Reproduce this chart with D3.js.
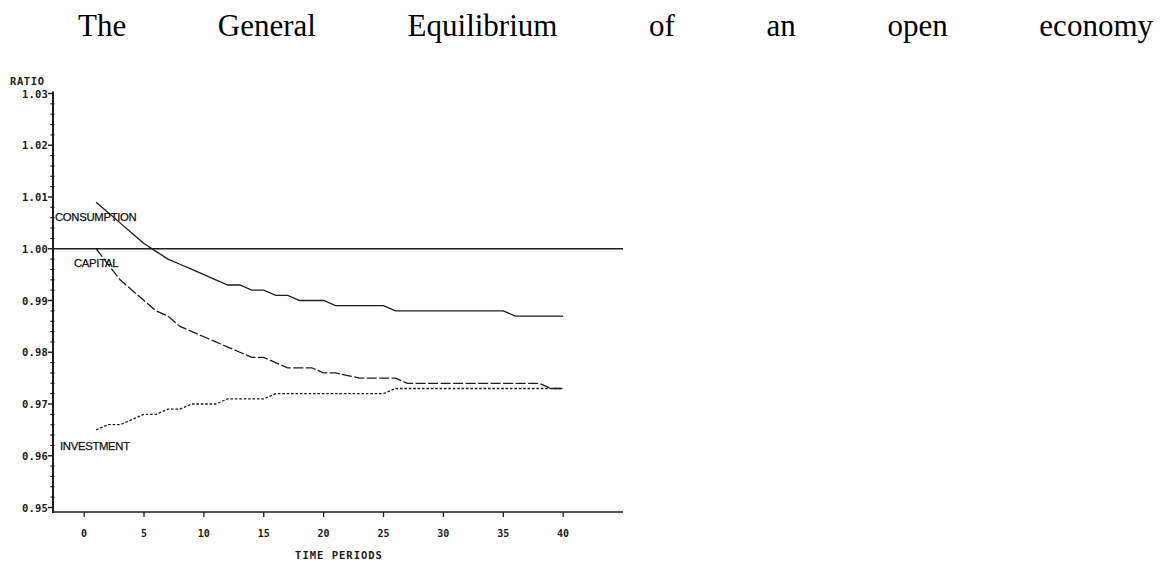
<!DOCTYPE html>
<html>
<head>
<meta charset="utf-8">
<script src="https://cdn.jsdelivr.net/npm/d3@7"></script>
<style>
  body { margin: 0; background: #fff; }
  svg { display: block; }
  .tick-label { font-family: "DejaVu Sans Mono", monospace; font-weight: bold; fill: #1a1a1a; }
  .series-label { font-family: "Liberation Sans", Arial, sans-serif; font-size: 11.3px; fill: #111; stroke: #111; stroke-width: 0.25px; }
</style>
</head>
<body>
<div id="chart"></div>
<script>
var titleWords = ["The", "General", "Equilibrium", "of", "an", "open", "economy"]

var periods = [1,2,3,4,5,6,7,8,9,10,11,12,13,14,15,16,17,18,19,20,
               21,22,23,24,25,26,27,28,29,30,31,32,33,34,35,36,37,38,39,40]

var consumption = [1.009,1.007,1.005,1.003,1.001,0.9995,0.998,0.997,0.996,0.995,
                   0.994,0.993,0.993,0.992,0.992,0.991,0.991,0.990,0.990,0.990,
                   0.989,0.989,0.989,0.989,0.989,0.988,0.988,0.988,0.988,0.988,
                   0.988,0.988,0.988,0.988,0.988,0.987,0.987,0.987,0.987,0.987]

var capital = [1.000,0.997,0.994,0.992,0.990,0.988,0.987,0.985,0.984,0.983,
               0.982,0.981,0.980,0.979,0.979,0.978,0.977,0.977,0.977,0.976,
               0.976,0.9755,0.975,0.975,0.975,0.975,0.974,0.974,0.974,0.974,
               0.974,0.974,0.974,0.974,0.974,0.974,0.974,0.974,0.973,0.973]

var investment = [0.965,0.966,0.966,0.967,0.968,0.968,0.969,0.969,0.970,0.970,
                  0.970,0.971,0.971,0.971,0.971,0.972,0.972,0.972,0.972,0.972,
                  0.972,0.972,0.972,0.972,0.972,0.973,0.973,0.973,0.973,0.973,
                  0.973,0.973,0.973,0.973,0.973,0.973,0.973,0.973,0.973,0.973]

var xTicks = [0,5,10,15,20,25,30,35,40]
var yTicks = [0.95,0.96,0.97,0.98,0.99,1.00,1.01,1.02,1.03]
var yMinorTicks = [0.952,0.954,0.956,0.958,0.962,0.964,0.966,0.968,0.972,0.974,0.976,0.978,
                   0.982,0.984,0.986,0.988,0.992,0.994,0.996,0.998,1.002,1.004,1.006,1.008,
                   1.012,1.014,1.016,1.018,1.022,1.024,1.026,1.028]

document.addEventListener("DOMContentLoaded", function() {
  draw()
});

function draw(){
  var width = 1162, height = 563
  var ink = "#1c1c1c"

  var svg = d3.select("#chart").append("svg")
    .attr("width", width)
    .attr("height", height)

  // justified title: first word starts at the left edge, last ends at the right
  var title = svg.append("g")
  var words = title.selectAll("text")
    .data(titleWords)
    .enter()
    .append("text")
      .attr("y", 36)
      .attr("font-family", "'Liberation Serif', 'Times New Roman', serif")
      .attr("font-size", 31)
      .attr("fill", "#000")
      .text(function(d) { return d; })
  var left = 78, right = 1153
  var lens = words.nodes().map(function(n) { return n.getComputedTextLength(); })
  var gap = (right - left - d3.sum(lens)) / (titleWords.length - 1)
  var pos = left
  words.attr("x", function(d, i) {
    var p = pos
    pos += lens[i] + gap
    return p
  })

  var x = d3.scaleLinear()
      .domain([-2.6, 45])
      .range([53, 623])

  var y = d3.scaleLinear()
      .domain([0.95, 1.03])
      .range([507.5, 93.5])

  var axisY = 512

  // axes
  svg.append("line")
    .attr("x1", x(-2.6)).attr("x2", x(-2.6))
    .attr("y1", y(1.03) - 2).attr("y2", axisY + 1)
    .attr("stroke", ink).attr("stroke-width", 2)

  svg.append("line")
    .attr("x1", x(-2.6)).attr("x2", x(45))
    .attr("y1", axisY).attr("y2", axisY)
    .attr("stroke", ink).attr("stroke-width", 1.5)

  svg.selectAll("line.ymajor")
    .data(yTicks)
    .enter()
    .append("line")
      .attr("class", "ymajor")
      .attr("x1", x(-2.6) - 5).attr("x2", x(-2.6))
      .attr("y1", function(d) { return y(d); })
      .attr("y2", function(d) { return y(d); })
      .attr("stroke", ink).attr("stroke-width", 1.4)

  svg.selectAll("line.yminor")
    .data(yMinorTicks)
    .enter()
    .append("line")
      .attr("class", "yminor")
      .attr("x1", x(-2.6) - 2.5).attr("x2", x(-2.6) + 1.5)
      .attr("y1", function(d) { return y(d); })
      .attr("y2", function(d) { return y(d); })
      .attr("stroke", ink).attr("stroke-width", 1.2)

  svg.selectAll("text.ylab")
    .data(yTicks)
    .enter()
    .append("text")
      .attr("class", "tick-label ylab")
      .attr("x", 48)
      .attr("y", function(d) { return y(d) + 4; })
      .attr("text-anchor", "end")
      .attr("font-size", 10.5)
      .attr("letter-spacing", 0.2)
      .text(function(d) { return d3.format(".2f")(d); })

  svg.selectAll("line.xtick")
    .data(xTicks)
    .enter()
    .append("line")
      .attr("class", "xtick")
      .attr("x1", function(d) { return x(d); })
      .attr("x2", function(d) { return x(d); })
      .attr("y1", axisY).attr("y2", axisY + 5)
      .attr("stroke", ink).attr("stroke-width", 1.3)

  svg.selectAll("text.xlab")
    .data(xTicks)
    .enter()
    .append("text")
      .attr("class", "tick-label xlab")
      .attr("x", function(d) { return x(d); })
      .attr("y", 537)
      .attr("text-anchor", "middle")
      .attr("font-size", 10)
      .text(function(d) { return d; })

  svg.append("text")
    .attr("class", "tick-label")
    .attr("x", 10).attr("y", 84.5)
    .attr("font-size", 10.5)
    .attr("letter-spacing", 0.6)
    .text("RATIO")

  svg.append("text")
    .attr("class", "tick-label")
    .attr("x", 339).attr("y", 559)
    .attr("text-anchor", "middle")
    .attr("font-size", 10.5)
    .attr("letter-spacing", 1)
    .text("TIME PERIODS")

  // reference line at 1.00
  svg.append("line")
    .attr("x1", x(-2.6)).attr("x2", x(45))
    .attr("y1", y(1.00)).attr("y2", y(1.00))
    .attr("stroke", ink).attr("stroke-width", 1.3)

  var series = [
    {name: "CONSUMPTION", values: consumption, dash: null},
    {name: "CAPITAL", values: capital, dash: "10,2.5"},
    {name: "INVESTMENT", values: investment, dash: "2.6,1.8"}
  ]

  var line = d3.line()
    .x(function(d) { return x(d[0]); })
    .y(function(d) { return y(d[1]); })

  svg.selectAll("path.series")
    .data(series)
    .enter()
    .append("path")
      .attr("class", "series")
      .attr("fill", "none")
      .attr("stroke", ink)
      .attr("stroke-width", 1.3)
      .attr("stroke-dasharray", function(d) { return d.dash; })
      .attr("d", function(d) {
        return line(periods.map(function(p, i) { return [p, d.values[i]]; }))
      })

  var labels = [
    {text: "CONSUMPTION", x: 55, y: 221},
    {text: "CAPITAL", x: 74, y: 267},
    {text: "INVESTMENT", x: 60, y: 450}
  ]

  svg.selectAll("text.series-label")
    .data(labels)
    .enter()
    .append("text")
      .attr("class", "series-label")
      .attr("x", function(d) { return d.x; })
      .attr("y", function(d) { return d.y; })
      .attr("letter-spacing", -0.3)
      .text(function(d) { return d.text; })
}
</script>
</body>
</html>
